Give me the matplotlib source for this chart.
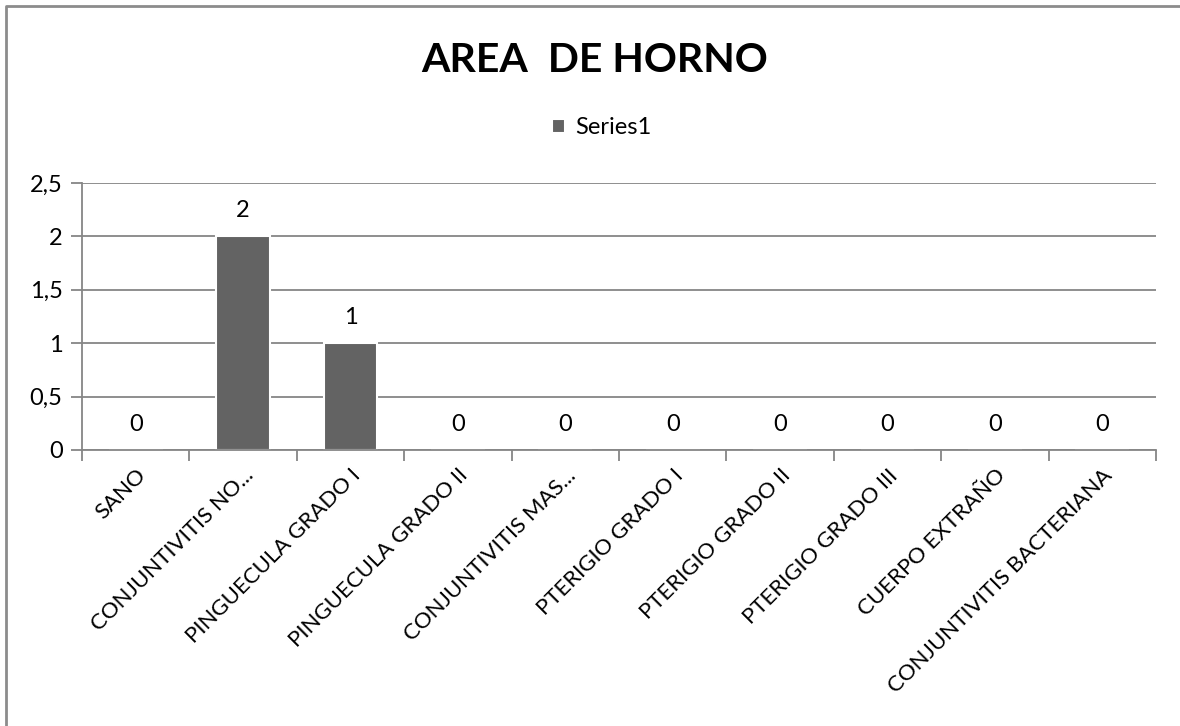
import matplotlib.pyplot as plt
from matplotlib.lines import Line2D
from matplotlib.ticker import FuncFormatter

categorias = ["SANO", "CONJUNTIVITIS NO...", "PINGUECULA GRADO I", "PINGUECULA GRADO II",
              "CONJUNTIVITIS MAS...", "PTERIGIO GRADO I", "PTERIGIO GRADO II",
              "PTERIGIO GRADO III", "CUERPO EXTRAÑO", "CONJUNTIVITIS BACTERIANA"]
valores = [0, 2, 1, 0, 0, 0, 0, 0, 0, 0]
yticks = [0, 0.5, 1, 1.5, 2, 2.5]

plt.rcParams['font.family'] = ['Lato', 'DejaVu Sans']
gris = '#868686'

fig = plt.figure(figsize=(11.8, 7.26), dpi=100)
ax = fig.add_axes([0.0695, 0.3802, 0.9102, 0.3677])

x = list(range(len(categorias)))
barras = ax.bar(x, valores, width=0.5, color='#636363', edgecolor='white', linewidth=1.5, zorder=3)
ax.bar_label(barras, labels=[str(v) for v in valores], padding=11, fontsize=17)

ax.set_xlim(-0.5, len(categorias) - 0.5)
ax.set_ylim(0, 2.5)
ax.set_yticks(yticks)
ax.yaxis.set_major_formatter(FuncFormatter(lambda v, p: ('%g' % v).replace('.', ',')))
ax.grid(axis='y', color=gris, linewidth=1.3, zorder=0)

# marcas en los limites de cada categoria, etiquetas en el centro
ax.set_xticks([i - 0.5 for i in range(len(categorias) + 1)])
ax.set_xticklabels([])
ax.set_xticks(x, minor=True)
ax.set_xticklabels(categorias, minor=True, rotation=45, ha='right', va='top',
                   rotation_mode='anchor', fontsize=16)
ax.tick_params(axis='x', which='major', length=8, color=gris, width=1.3)
ax.tick_params(axis='x', which='minor', length=0, pad=11)
ax.tick_params(axis='y', length=8, color=gris, width=1.3, labelsize=17, pad=6)

for lado in ['top', 'right']:
    ax.spines[lado].set_visible(False)
for lado in ['left', 'bottom']:
    ax.spines[lado].set_color(gris)
    ax.spines[lado].set_linewidth(1.3)
    ax.spines[lado].set_zorder(4)

fig.text(0.504, 0.917, "AREA  DE HORNO", ha='center', va='center', fontsize=29.5, fontweight='bold')
fig.legend([barras], ["Series1"], loc='center', bbox_to_anchor=(0.51, 0.824), frameon=False,
           fontsize=17, handlelength=0.55, handleheight=0.55, handletextpad=0.4)

# borde del grafico (solo izquierda y arriba)
borde_x = [6 / 1180, 6 / 1180, 1.0]
borde_y = [0.0, 1 - 6 / 726, 1 - 6 / 726]
fig.add_artist(Line2D(borde_x, borde_y, transform=fig.transFigure, color='#8c8c8c', linewidth=2))

plt.savefig("out.png")
